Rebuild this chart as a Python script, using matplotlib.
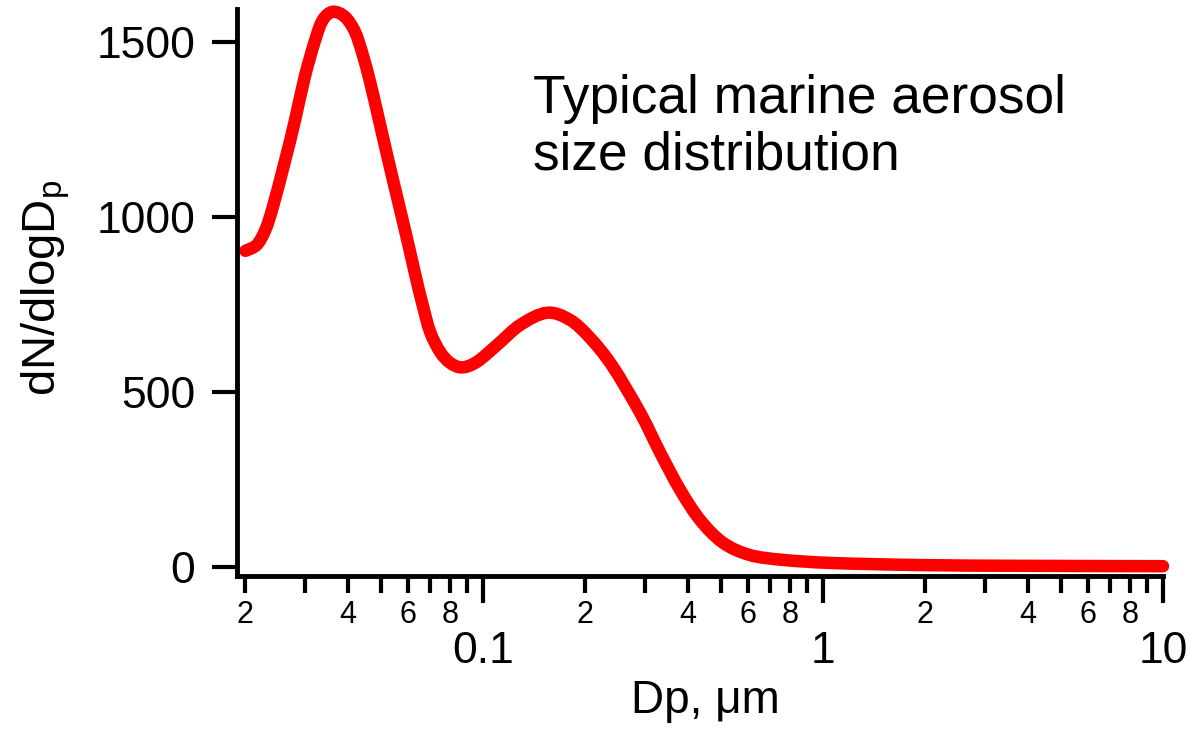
import numpy as np
import matplotlib.pyplot as plt
from matplotlib.path import Path
from matplotlib.patches import PathPatch
from matplotlib.ticker import FixedLocator, FixedFormatter, FuncFormatter

plt.rcParams['font.family'] = ['Liberation Sans', 'DejaVu Sans']
plt.rcParams['mathtext.fontset'] = 'custom'
plt.rcParams['mathtext.rm'] = 'Liberation Sans'
plt.rcParams['mathtext.it'] = 'Liberation Sans'

# particle diameter (um) and number size distribution
dp = [0.0200, 0.0216, 0.0229, 0.0241, 0.0262, 0.0280, 0.0299, 0.0321, 0.0338,
      0.0362, 0.0393, 0.0420, 0.0441, 0.0466, 0.0498, 0.0532, 0.0578, 0.0610,
      0.0635, 0.0662, 0.0699, 0.0748, 0.0800, 0.0867, 0.0960, 0.110, 0.1285,
      0.154, 0.180, 0.2065, 0.240, 0.290, 0.332, 0.380, 0.435, 0.508, 0.609,
      0.762, 1.07, 2.0, 4.0, 10.0]
dn = [903, 920, 963, 1029, 1163, 1277, 1400, 1506, 1563,
      1586, 1571, 1529, 1469, 1383, 1263, 1143, 997, 900,
      826, 754, 671, 614, 583, 570, 586, 634, 691,
      726, 706, 654, 574, 440, 326, 220, 134, 69, 34,
      20, 11, 5, 3, 2]

y_ticks = [0, 500, 1000, 1500]
x_major = [0.1, 1, 10]
x_major_labels = ['0.1', '1', '10']

fig = plt.figure(figsize=(11.9, 7.29), dpi=100)
ax = fig.add_axes([0.1992, 0.2099, 0.7781, 0.7778])

ax.set_xscale('log')
ax.set_xlim(0.0189, 10)
ax.set_ylim(-26, 1594)


def smooth_path(px, py):
    # Catmull-Rom curve through the points, drawn as cubic Beziers
    # in axes space so the log scaling is already applied
    disp = ax.transData.transform(np.column_stack([px, py]))
    p = ax.transAxes.inverted().transform(disp)
    p = np.vstack([p[0], p, p[-1]])
    verts = [p[1]]
    codes = [Path.MOVETO]
    for i in range(1, len(p) - 2):
        c1 = p[i] + (p[i + 1] - p[i - 1]) / 6.0
        c2 = p[i + 1] - (p[i + 2] - p[i]) / 6.0
        verts += [c1, c2, p[i + 1]]
        codes += [Path.CURVE4] * 3
    return Path(verts, codes)


curve = PathPatch(smooth_path(dp, dn), transform=ax.transAxes, fill=False,
                  edgecolor='#ff0000', lw=9, capstyle='round',
                  joinstyle='round', clip_on=False)
ax.add_patch(curve)

for s in ['top', 'right']:
    ax.spines[s].set_visible(False)
for s in ['left', 'bottom']:
    ax.spines[s].set_linewidth(3.5)

ax.set_yticks(y_ticks)
ax.tick_params(axis='y', which='major', direction='out', length=18, width=3,
               pad=12, labelsize=32)

minor = [m * d for d in (0.01, 0.1, 1) for m in range(2, 10)]
ax.xaxis.set_major_locator(FixedLocator(x_major))
ax.xaxis.set_major_formatter(FixedFormatter(x_major_labels))
ax.xaxis.set_minor_locator(FixedLocator(minor))


def minor_fmt(v, pos):
    m = int(round(v / 10 ** np.floor(np.log10(v) + 1e-9)))
    return str(m) if m in (2, 4, 6, 8) else ''


ax.xaxis.set_minor_formatter(FuncFormatter(minor_fmt))
ax.tick_params(axis='x', which='major', direction='out', length=19.5, width=3,
               pad=20, labelsize=32)
ax.tick_params(axis='x', which='minor', direction='out', length=12, width=3,
               pad=5, labelsize=22)

ax.set_ylabel(r'dN/dlogD$_\mathregular{p}$', fontsize=34)
ax.yaxis.set_label_coords(-0.178, 0.508)
ax.set_xlabel('Dp, μm', fontsize=33)
ax.xaxis.set_label_coords(0.5054, -0.1817)

ax.text(0.3197, 0.8166, 'Typical marine aerosol', transform=ax.transAxes,
        fontsize=38.3, va='baseline', ha='left')
ax.text(0.3197, 0.716, 'size distribution', transform=ax.transAxes,
        fontsize=38.3, va='baseline', ha='left')

fig.savefig('out.png', dpi=100)
